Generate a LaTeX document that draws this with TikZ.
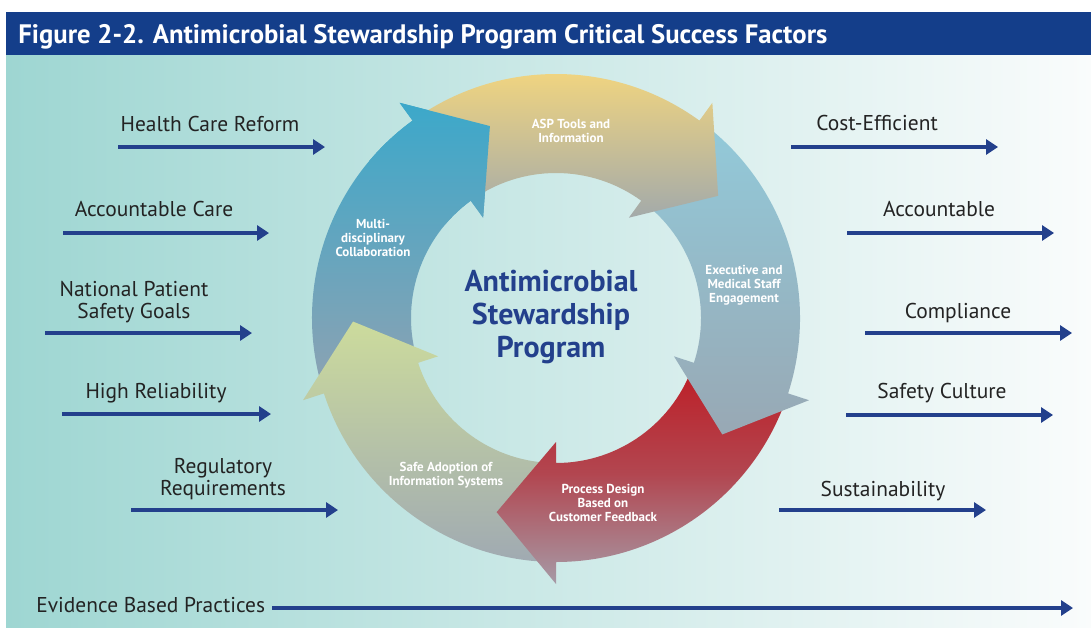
\documentclass[tikz,border=0pt]{standalone}
\usepackage{fontspec}
\setmainfont{PT Sans}
\usetikzlibrary{arrows.meta}

\definecolor{titleblue}{RGB}{20,62,138}
\definecolor{flowblue}{RGB}{35,64,140}
\definecolor{labelgray}{RGB}{35,35,35}
\definecolor{panelleft}{RGB}{158,214,210}
\definecolor{panelright}{RGB}{250,252,252}

\tikzset{
  factor/.style={font=\fontsize{12.2}{13}\selectfont, text=labelgray, align=center, inner sep=0pt},
  flow/.style={draw=flowblue, line width=2pt, -{Triangle[length=6.8pt,width=8.5pt]}},
  steplabel/.style={font=\bfseries\fontsize{7.4}{8}\selectfont, text=white, align=center, inner sep=0pt},
  arrowpath/.style={insert path={(#1+72:244) arc[start angle=#1+72, end angle=#1, radius=244]
      -- (#1:266) -- (#1-17:203) -- (#1:124) -- (#1:145) arc[start angle=#1, end angle=#1+72, radius=145] -- cycle}},
}

\begin{document}
\begin{tikzpicture}[x=0.02cm, y=0.02cm]
  \useasboundingbox (0,0) rectangle (1091,627);

  % panel and title bar
  \shade[left color=panelleft, right color=panelright] (6,0) rectangle (1091,572);
  \fill[titleblue] (6,572) rectangle (1091,615);
  \node[anchor=base west, inner sep=0pt, text=white, font=\bfseries\fontsize{15.2}{17}\selectfont] (title) at (18,584)
    {Figure 2-2. Antimicrobial Stewardship Program Critical Success Factors};

  % the cycle
  \begin{scope}[shift={(556,309)}]
    \shade[top color={rgb,255:red,60;green,168;blue,202}, bottom color={rgb,255:red,142;green,162;blue,178}, arrowpath=126];
    \shade[top color={rgb,255:red,204;green,219;blue,156}, bottom color={rgb,255:red,160;green,170;blue,178}, arrowpath=-162];
    \shade[top color={rgb,255:red,190;green,28;blue,36}, bottom color={rgb,255:red,166;green,154;blue,166},
      middle color={rgb,255:red,178;green,70;blue,80}, arrowpath=-90];
    \shade[top color={rgb,255:red,146;green,202;blue,218}, bottom color={rgb,255:red,152;green,168;blue,180}, arrowpath=-18];
    \shade[top color={rgb,255:red,247;green,216;blue,124}, bottom color={rgb,255:red,163;green,170;blue,170}, arrowpath=54];
    % head of the first one goes on top again
    \begin{scope}
      \clip (126:266) -- (109:203) -- (126:124) -- (140:124) -- (140:266) -- cycle;
      \shade[top color={rgb,255:red,60;green,168;blue,202}, bottom color={rgb,255:red,142;green,162;blue,178}, arrowpath=126];
    \end{scope}
  \end{scope}

  \node[steplabel] (tools) at (571,496) {ASP Tools and\\Information};
  \node[steplabel] (exec) at (744,342) {Executive and\\Medical Staff\\Engagement};
  \node[steplabel] (design) at (603,124) {Process Design\\Based on\\Customer Feedback};
  \node[steplabel] (adopt) at (446,152) {Safe Adoption of\\Information Systems};
  \node[steplabel] (collab) at (373,389) {Multi-\\disciplinary\\Collaboration};

  \node[align=center, inner sep=0pt, text=flowblue, font=\bfseries\fontsize{17.1}{18.8}\selectfont] (asp) at (551,310)
    {Antimicrobial\\Stewardship\\Program};

  % drivers (left)
  \node[factor, anchor=base] (reform) at (210,496) {Health Care Reform};
  \coordinate (reform-s) at (118,480); \coordinate (reform-e) at (325,480);
  \node[factor, anchor=base] (care) at (154,411) {Accountable Care};
  \coordinate (care-s) at (63,394); \coordinate (care-e) at (269,394);
  \node[factor] (goals) at (134,325) {National Patient\\Safety Goals};
  \coordinate (goals-s) at (45,294); \coordinate (goals-e) at (252,294);
  \node[factor, anchor=base] (reliab) at (156,229) {High Reliability};
  \coordinate (reliab-s) at (62,213); \coordinate (reliab-e) at (271,213);
  \node[factor] (regul) at (223,148) {Regulatory\\Requirements};
  \coordinate (regul-s) at (131,117); \coordinate (regul-e) at (338,117);
  \node[factor, anchor=base west] (evid) at (36,15) {Evidence Based Practices};
  \coordinate (evid-s) at (272,19); \coordinate (evid-e) at (1073,19);

  % outcomes (right)
  \node[factor, anchor=base] (cost) at (877,497) {Cost-Efficient};
  \coordinate (cost-s) at (791,480); \coordinate (cost-e) at (998,480);
  \node[factor, anchor=base] (account) at (939,411) {Accountable};
  \coordinate (account-s) at (847,394); \coordinate (account-e) at (1054,394);
  \node[factor, anchor=base] (compl) at (958,309) {Compliance};
  \coordinate (compl-s) at (865,294); \coordinate (compl-e) at (1072,294);
  \node[factor, anchor=base] (safety) at (942,229) {Safety Culture};
  \coordinate (safety-s) at (846,212); \coordinate (safety-e) at (1053,212);
  \node[factor, anchor=base] (sustain) at (883,131) {Sustainability};
  \coordinate (sustain-s) at (779,117); \coordinate (sustain-e) at (986,117);

  \draw[flow] (reform-s) -- (reform-e);
  \draw[flow] (care-s) -- (care-e);
  \draw[flow] (goals-s) -- (goals-e);
  \draw[flow] (reliab-s) -- (reliab-e);
  \draw[flow] (regul-s) -- (regul-e);
  \draw[flow] (evid-s) -- (evid-e);
  \draw[flow] (cost-s) -- (cost-e);
  \draw[flow] (account-s) -- (account-e);
  \draw[flow] (compl-s) -- (compl-e);
  \draw[flow] (safety-s) -- (safety-e);
  \draw[flow] (sustain-s) -- (sustain-e);
\end{tikzpicture}
\end{document}
